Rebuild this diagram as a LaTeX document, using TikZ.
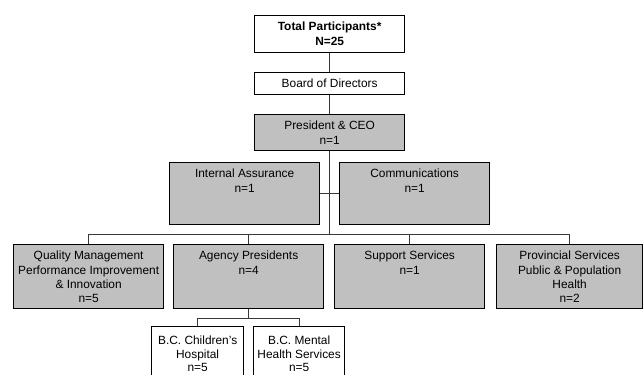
\documentclass[tikz,border=0pt]{standalone}
\usepackage{fontspec}
\setmainfont{Liberation Sans}
\definecolor{boxgray}{HTML}{C0C0C0}
\definecolor{linegray}{HTML}{383838}
\tikzset{
  orgbox/.style={draw=black, line width=1.3pt, inner sep=0pt, anchor=north west},
  graybox/.style={orgbox, fill=boxgray},
  whitebox/.style={orgbox, fill=white},
  txt/.style={anchor=north, inner sep=0pt, align=center, font=\fontsize{11.9}{14.2}\selectfont},
  smalltxt/.style={anchor=north, inner sep=0pt, align=center, font=\fontsize{11.9}{13.4}\selectfont},
  conn/.style={draw=linegray, line width=0.9pt}
}
\begin{document}
\begin{tikzpicture}[x=1pt,y=-1pt]
\useasboundingbox (0,0) rectangle (643,375);
\clip (0,0) rectangle (643,375);
% boxes
\node[whitebox, minimum width=150pt, minimum height=37pt] (tot) at (254,15) {};
\node[whitebox, minimum width=150pt, minimum height=22pt] (board) at (254,72) {};
\node[graybox, minimum width=150pt, minimum height=36pt] (pres) at (254,114) {};
\node[graybox, minimum width=150pt, minimum height=62pt] (ia) at (169,162) {};
\node[graybox, minimum width=150pt, minimum height=62pt] (comm) at (339,162) {};
\node[graybox, minimum width=150pt, minimum height=64pt] (qm) at (13,244) {};
\node[graybox, minimum width=150pt, minimum height=64pt] (ag) at (173,244) {};
\node[graybox, minimum width=150pt, minimum height=64pt] (sup) at (334,244) {};
\node[graybox, minimum width=146pt, minimum height=64pt] (prov) at (496,244) {};
\node[whitebox, minimum width=92pt, minimum height=70pt] (bcch) at (151,326) {};
\node[whitebox, minimum width=91pt, minimum height=70pt] (bcmh) at (253,326) {};
% texts
\node[txt] at ([yshift=-7pt]tot.north) {\bfseries Total Participants*\\\bfseries N=25};
\node[txt] at ([yshift=-7pt]board.north) {Board of Directors};
\node[txt] at ([yshift=-7pt]pres.north) {President \& CEO\\n=1};
\node[txt] at ([yshift=-7pt]ia.north) {Internal Assurance\\n=1};
\node[txt] at ([yshift=-7pt]comm.north) {Communications\\n=1};
\node[txt] at ([yshift=-7pt]qm.north) {Quality Management\\Performance Improvement\\\& Innovation\\n=5};
\node[txt] at ([yshift=-7pt]ag.north) {Agency Presidents\\n=4};
\node[txt] at ([yshift=-7pt]sup.north) {Support Services\\n=1};
\node[txt] at ([yshift=-7pt]prov.north) {Provincial Services\\Public \& Population\\Health\\n=2};
\node[smalltxt] at ([yshift=-10pt]bcch.north) {B.C. Children's\\Hospital\\n=5};
\node[smalltxt] at ([yshift=-10pt]bcmh.north) {B.C. Mental\\Health Services\\n=5};
% connectors
\coordinate (bus) at (329,234);
\coordinate (subbus) at (248,318);
\draw[conn] (tot.south) -- (board.north);
\draw[conn] (board.south) -- (pres.north);
\draw[conn] (pres.south) -- (pres.south |- bus);
\draw[conn] (ia.east) -- (comm.west);
\draw[conn] (qm.north) -- (qm.north |- bus) -- (prov.north |- bus) -- (prov.north);
\draw[conn] (ag.north) -- (ag.north |- bus);
\draw[conn] (sup.north) -- (sup.north |- bus);
\draw[conn] (ag.south) -- (ag.south |- subbus);
\draw[conn] (bcch.north) -- (bcch.north |- subbus) -- (bcmh.north |- subbus) -- (bcmh.north);
\end{tikzpicture}
\end{document}
